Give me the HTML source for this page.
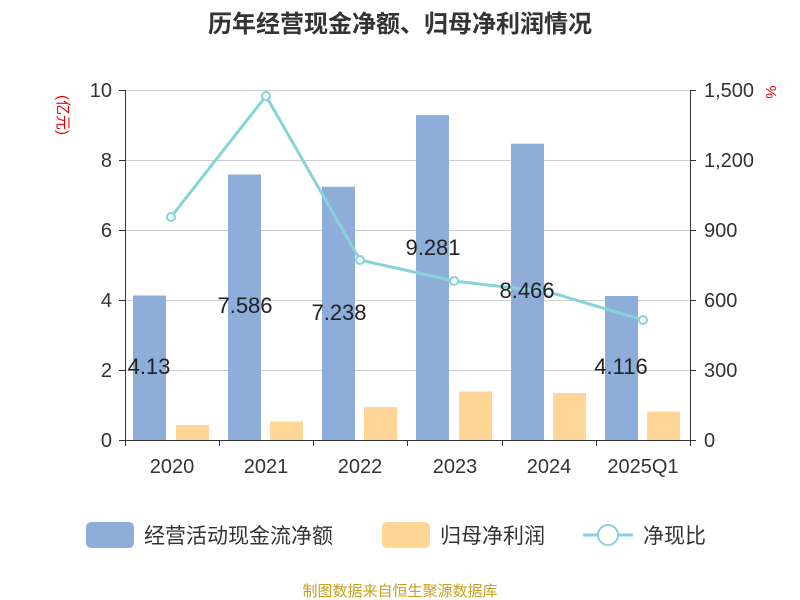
<!DOCTYPE html>
<html><head><meta charset="utf-8"><style>
body{margin:0;background:#fff;}
svg{display:block;font-family:"Liberation Sans","Noto Sans CJK SC",sans-serif;}
</style></head><body>
<svg width="800" height="600" viewBox="0 0 800 600" xmlns="http://www.w3.org/2000/svg">
<rect width="800" height="600" fill="#fff"/>
<text x="400" y="32" text-anchor="middle" font-size="24" font-weight="bold" fill="#333">历年经营现金净额、归母净利润情况</text>
<g stroke="#ccc" stroke-width="1">
<line x1="125" y1="90.5" x2="690" y2="90.5"/>
<line x1="125" y1="160.5" x2="690" y2="160.5"/>
<line x1="125" y1="230.5" x2="690" y2="230.5"/>
<line x1="125" y1="300.5" x2="690" y2="300.5"/>
<line x1="125" y1="370.5" x2="690" y2="370.5"/>
</g>
<g stroke="#333" stroke-width="1">
<line x1="125.5" y1="90" x2="125.5" y2="440"/>
<line x1="690.5" y1="90" x2="690.5" y2="440"/>
<line x1="125" y1="440.5" x2="690" y2="440.5"/>
<line x1="119" y1="90.5" x2="125" y2="90.5"/><line x1="119" y1="160.5" x2="125" y2="160.5"/><line x1="119" y1="230.5" x2="125" y2="230.5"/><line x1="119" y1="300.5" x2="125" y2="300.5"/><line x1="119" y1="370.5" x2="125" y2="370.5"/><line x1="119" y1="440.5" x2="125" y2="440.5"/>
<line x1="690" y1="90.5" x2="696" y2="90.5"/><line x1="690" y1="160.5" x2="696" y2="160.5"/><line x1="690" y1="230.5" x2="696" y2="230.5"/><line x1="690" y1="300.5" x2="696" y2="300.5"/><line x1="690" y1="370.5" x2="696" y2="370.5"/><line x1="690" y1="440.5" x2="696" y2="440.5"/>
<line x1="125.5" y1="440" x2="125.5" y2="446"/><line x1="219.5" y1="440" x2="219.5" y2="446"/><line x1="313.5" y1="440" x2="313.5" y2="446"/><line x1="407.5" y1="440" x2="407.5" y2="446"/><line x1="502.5" y1="440" x2="502.5" y2="446"/><line x1="596.5" y1="440" x2="596.5" y2="446"/><line x1="690.5" y1="440" x2="690.5" y2="446"/>
</g>
<g font-size="20" fill="#333" text-anchor="end">
<text x="112" y="97">10</text><text x="112" y="167">8</text><text x="112" y="237">6</text><text x="112" y="307">4</text><text x="112" y="377">2</text><text x="112" y="447">0</text>
</g>
<g font-size="20" fill="#333" text-anchor="start">
<text x="704" y="97">1,500</text><text x="704" y="167">1,200</text><text x="704" y="237">900</text><text x="704" y="307">600</text><text x="704" y="377">300</text><text x="704" y="447">0</text>
</g>
<text transform="translate(58,115) rotate(90)" font-size="15" fill="#e00" text-anchor="middle">(亿元)</text>
<text transform="translate(766,92) rotate(90)" font-size="15" fill="#e00" text-anchor="middle">%</text>
<g font-size="20" fill="#333" text-anchor="middle">
<text x="172" y="473">2020</text><text x="266" y="473">2021</text><text x="360" y="473">2022</text><text x="455" y="473">2023</text><text x="549" y="473">2024</text><text x="643" y="473">2025Q1</text>
</g>
<g fill="#8eadd9">
<rect x="133" y="295.5" width="33" height="144.5"/>
<rect x="228" y="174.5" width="33" height="265.5"/>
<rect x="322" y="186.7" width="33" height="253.3"/>
<rect x="416" y="115.2" width="33" height="324.8"/>
<rect x="511" y="143.7" width="33" height="296.3"/>
<rect x="605" y="296" width="33" height="144"/>
</g>
<g fill="#ffd696">
<rect x="176" y="425" width="33" height="15"/>
<rect x="270" y="421.5" width="33" height="18.5"/>
<rect x="364" y="407" width="33" height="33"/>
<rect x="459" y="391.5" width="33" height="48.5"/>
<rect x="553" y="393" width="33" height="47"/>
<rect x="647" y="411.5" width="33" height="28.5"/>
</g>
<polyline points="171,217 266,96 360,260 454,281 549,292 643,320" fill="none" stroke="#86d3d9" stroke-width="3"/>
<g fill="#fff" stroke="#86d3d9" stroke-width="2">
<circle cx="171" cy="217" r="4"/><circle cx="266" cy="96" r="4"/><circle cx="360" cy="260" r="4"/><circle cx="454" cy="281" r="4"/><circle cx="549" cy="292" r="4"/><circle cx="643" cy="320" r="4"/>
</g>
<g font-size="22" fill="#222" text-anchor="middle">
<text x="149" y="374">4.13</text><text x="245" y="313">7.586</text><text x="339" y="320">7.238</text><text x="433" y="255">9.281</text><text x="527" y="298">8.466</text><text x="621" y="374">4.116</text>
</g>
<rect x="86" y="522" width="48" height="26" rx="5" fill="#8eadd9"/>
<text x="144" y="543" font-size="21" fill="#333">经营活动现金流净额</text>
<rect x="382" y="522" width="48" height="26" rx="5" fill="#ffd696"/>
<text x="440" y="543" font-size="21" fill="#333">归母净利润</text>
<line x1="583" y1="535" x2="633" y2="535" stroke="#86d3d9" stroke-width="3"/>
<circle cx="608" cy="535" r="10" fill="#fff" stroke="#86d3d9" stroke-width="2"/>
<text x="643" y="543" font-size="21" fill="#333">净现比</text>
<text x="400" y="596" text-anchor="middle" font-size="15" fill="#c9a021">制图数据来自恒生聚源数据库</text>
</svg>
</body></html>
